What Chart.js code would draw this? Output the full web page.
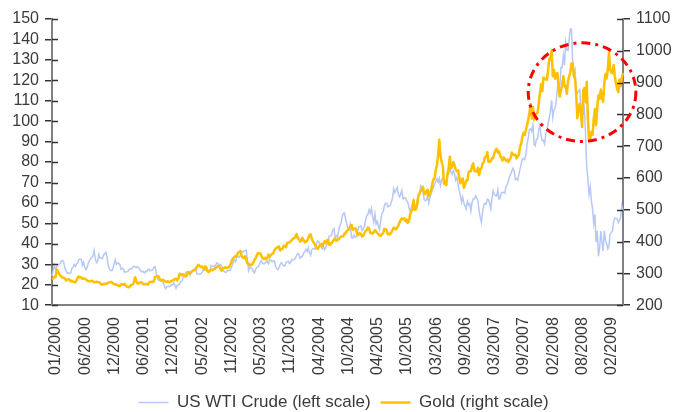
<!DOCTYPE html>
<html><head><meta charset="utf-8">
<script src="https://cdn.jsdelivr.net/npm/chart.js@4.4.1/dist/chart.umd.min.js"></script>
<style>html,body{margin:0;padding:0;background:#fff}#wrap{width:675px;height:412px;position:relative}</style>
</head><body><div id="wrap"><canvas id="c"></canvas></div>
<script>
// weekly observations (Fridays) starting 2000-01-07
const startWeek = '2000-01-07';
const tickLabels = ['01/2000','06/2000','12/2000','06/2001','12/2001','05/2002','11/2002','05/2003','11/2003','04/2004',
  '10/2004','04/2005','10/2005','03/2006','09/2006','03/2007','09/2007','02/2008','08/2008','02/2009'];
const tickEvery = 25;
const seriesNames = ['US WTI Crude (left scale)', 'Gold (right scale)'];

// US WTI crude, USD/bbl (left scale)
const oil = [
  24.2,26.9,29.6,27.6,28.9,29.5,30.0,30.4,31.5,31.9,31.0,28.0,26.9,25.6,25.8,25.6,25.7,28.0,28.6,29.9,29.0,30.3,30.6,32.4,32.5,32.5,29.5,31.0,28.5,27.4,28.5,30.5,31.8,32.8,33.4,34.0,36.7,32.7,30.8,31.5,34.8,33.0,33.0,32.7,34.4,35.3,35.8,33.9,29.5,27.9,27.0,26.8,
  27.9,30.0,32.2,30.0,30.6,30.5,29.8,27.6,27.9,27.8,26.0,26.3,26.3,26.5,27.7,27.6,27.9,28.6,29.0,28.8,28.4,28.8,28.4,27.5,26.6,26.3,26.6,25.8,26.6,26.3,27.3,27.7,26.8,27.0,27.2,28.5,28.8,25.9,23.4,22.4,21.9,21.8,21.5,21.1,19.5,18.0,19.0,19.2,19.0,19.3,20.0,19.8,
  21.0,19.7,18.2,19.8,19.9,20.4,21.5,21.7,23.3,24.2,25.5,26.3,26.3,26.6,24.6,26.4,26.8,27.0,28.1,28.1,25.2,25.3,25.3,25.3,25.8,26.9,26.9,27.6,26.8,26.9,27.0,26.9,29.4,29.0,28.9,29.1,29.8,30.7,30.3,29.5,30.0,29.1,27.2,26.6,26.0,26.2,26.9,26.9,26.9,28.0,29.4,31.2,
  32.0,31.2,33.7,33.6,33.5,34.3,35.9,36.0,36.6,36.6,36.8,31.9,26.9,28.6,28.2,27.9,26.3,25.8,27.5,28.5,28.6,29.6,31.3,31.7,30.4,30.2,30.6,31.2,31.5,30.3,32.6,32.0,31.3,31.7,31.6,29.1,27.9,27.3,28.3,29.8,30.8,30.0,29.3,29.1,30.9,31.3,31.4,30.4,31.0,32.4,32.2,32.3,
  33.0,34.3,35.3,34.8,33.0,33.7,33.9,35.3,36.2,37.3,36.2,38.1,35.7,34.4,37.1,37.7,37.7,37.4,39.9,41.4,41.0,39.9,38.5,37.6,38.6,37.1,38.4,39.5,41.6,43.8,43.8,44.4,46.6,47.3,43.2,43.9,43.0,46.6,48.9,50.1,53.3,54.9,55.2,51.8,49.6,47.3,46.8,49.4,43.0,42.8,44.3,43.2,43.5,
  45.4,48.4,48.5,48.8,46.5,47.5,48.4,51.5,53.8,54.4,56.7,55.0,57.3,53.3,50.5,54.6,49.7,51.0,48.7,47.0,51.9,55.0,55.6,58.5,59.8,59.8,58.1,58.5,58.7,60.6,62.3,66.9,65.0,66.2,67.6,64.1,63.0,64.2,66.2,62.0,62.6,62.6,61.1,60.6,57.8,56.1,57.8,59.3,61.4,58.1,58.4,61.0,
  64.2,63.9,68.4,67.8,65.4,61.8,61.1,61.4,63.7,60.0,62.8,64.3,66.6,67.4,69.3,70.4,71.9,70.2,72.0,68.5,71.4,72.3,71.6,69.9,70.9,73.9,74.1,77.0,75.0,74.0,75.9,74.4,71.1,72.5,69.2,66.3,63.8,60.5,62.9,59.8,58.6,57.0,60.8,59.1,59.6,56.0,60.3,62.0,62.0,63.4,62.4,61.1,
  56.3,52.9,50.5,55.4,59.0,59.9,59.4,61.8,61.6,60.0,57.1,62.3,65.9,64.3,63.6,63.4,66.5,61.9,62.4,64.9,65.2,65.1,64.8,68.0,68.9,70.7,72.8,73.9,75.6,77.0,75.5,71.5,71.9,71.1,74.0,76.7,79.1,81.6,81.7,81.2,83.7,88.6,91.9,95.9,96.3,95.1,98.2,88.7,87.9,91.3,91.4,96.0,
  97.9,92.7,90.6,90.7,88.9,93.6,95.5,98.8,101.8,105.2,110.2,101.8,105.6,106.2,110.1,116.7,118.5,116.3,126.3,126.3,132.2,127.4,138.5,134.9,134.6,140.2,145.1,145.1,128.9,123.3,125.1,115.2,113.8,114.6,115.5,106.2,101.2,104.6,106.9,93.9,77.7,71.9,64.2,67.8,61.0,57.0,49.9,54.4,40.8,46.3,33.9,37.7,
  46.3,40.8,36.5,46.5,41.7,40.2,37.5,38.9,44.8,45.5,46.3,51.1,52.4,52.5,52.2,50.3,51.6,53.2,58.6,56.3
];

// Gold, USD/oz (right scale)
const gold = [
  282,284,289,288,312,307,298,294,290,287,286,284,278,280,282,280,275,277,274,272,272,278,287,290,287,288,283,284,283,281,277,276,275,275,277,275,272,272,274,272,272,271,266,264,267,266,268,268,270,272,272,273,
  268,267,265,264,264,260,260,266,266,264,267,262,258,257,256,261,264,265,272,288,275,268,268,271,272,271,266,266,267,266,265,271,274,273,273,275,289,290,292,291,283,278,278,280,276,274,274,275,273,273,276,278,
  278,283,283,278,283,299,297,294,297,293,290,292,301,302,301,303,308,310,310,314,321,327,324,320,322,318,313,322,318,306,304,310,311,310,313,314,318,320,323,322,314,308,316,317,319,318,318,319,324,333,343,348,
  352,354,356,365,367,371,355,350,348,354,344,331,330,325,327,328,333,342,348,357,364,362,363,355,347,346,349,344,348,359,352,357,361,362,372,378,380,382,385,372,376,377,387,386,382,396,397,397,401,405,410,411,
  415,424,411,408,400,402,412,405,397,400,402,410,420,423,410,400,396,388,380,377,383,390,392,384,395,401,395,404,405,390,391,395,401,406,410,403,404,407,412,415,417,417,425,425,434,436,442,448,452,437,440,442,438,
  420,422,427,424,416,418,427,434,436,444,441,427,428,425,430,436,432,427,423,419,418,424,426,440,439,435,423,424,423,429,436,444,441,439,444,450,460,468,473,470,473,464,470,459,462,485,494,500,530,500,500,513,
  541,550,560,561,572,552,549,559,563,543,555,560,582,595,598,626,640,673,720,672,650,639,582,583,578,613,630,667,630,635,650,641,627,621,624,603,583,593,599,569,580,592,592,618,622,621,638,646,622,623,620,632,
  609,627,631,646,650,665,666,681,651,650,653,662,662,677,687,692,680,684,670,664,655,665,660,654,658,650,657,663,680,674,672,673,662,668,673,698,707,731,742,735,752,765,784,806,833,787,823,783,800,802,806,834,
  865,895,873,916,913,910,909,940,975,972,1001,920,940,912,928,930,877,856,878,890,920,888,890,865,905,920,933,960,960,920,912,862,788,823,833,803,760,875,883,838,903,787,720,723,745,736,786,817,766,822,860,849,
  878,855,840,898,927,913,942,995,942,932,930,955,920,898,880,870,910,888,915,930
];

// highlighted region (dash-dot ellipse), in data units: week index and gold value
const highlight = { centerWeek: 453, centerGold: 870, radiusWeeks: 46, radiusGold: 155 };

const categories = [];
(function(){
  const d0 = new Date(startWeek + 'T00:00:00Z');
  for (let i = 0; i < oil.length; i++) {
    const d = new Date(d0.getTime() + i * 7 * 86400000);
    categories.push(String(d.getUTCMonth() + 1).padStart(2, '0') + '/' + d.getUTCFullYear());
  }
})();

const FONT = "'Liberation Sans', Arial, sans-serif";
const AXIS = '#808080';
const TEXT = '#3a3a3a';

const innerTicks = {
  id: 'innerTicks',
  afterDraw(chart) {
    const ctx = chart.ctx;
    ctx.save();
    ctx.strokeStyle = '#333';
    ctx.lineWidth = 1.5;
    [['yL', 1], ['yR', -1]].forEach(([id, dir]) => {
      const s = chart.scales[id];
      const x0 = dir === 1 ? chart.chartArea.left : chart.chartArea.right;
      s.ticks.forEach(t => {
        const y = Math.round(s.getPixelForValue(t.value)) + 0.5;
        ctx.beginPath();
        ctx.moveTo(x0, y);
        ctx.lineTo(x0 + dir * 6, y);
        ctx.stroke();
      });
    });
    ctx.restore();
  }
};

const ellipsePlugin = {
  id: 'ellipse',
  afterDatasetsDraw(chart) {
    const x = chart.scales.x, y = chart.scales.yR;
    const cx = x.getPixelForValue(highlight.centerWeek);
    const cy = y.getPixelForValue(highlight.centerGold);
    const rx = Math.abs(x.getPixelForValue(highlight.centerWeek + highlight.radiusWeeks) - cx);
    const ry = Math.abs(y.getPixelForValue(highlight.centerGold + highlight.radiusGold) - cy);
    const ctx = chart.ctx;
    ctx.save();
    ctx.strokeStyle = '#ff0000';
    ctx.lineWidth = 3;
    ctx.setLineDash([9, 5, 3, 5]);
    ctx.beginPath();
    ctx.ellipse(cx, cy, rx, ry, 0, 0, Math.PI * 2);
    ctx.stroke();
    ctx.restore();
  }
};

new Chart(document.getElementById('c'), {
  type: 'line',
  data: {
    labels: categories,
    datasets: [
      { label: seriesNames[0], data: oil, yAxisID: 'yL', borderColor: 'rgb(183,200,246)', borderWidth: 1.5,
        pointRadius: 0, tension: 0, order: 2 },
      { label: seriesNames[1], data: gold, yAxisID: 'yR', borderColor: '#ffc000', borderWidth: 2.5,
        pointRadius: 0, tension: 0, order: 1, borderJoinStyle: 'round' }
    ]
  },
  options: {
    responsive: true, maintainAspectRatio: false, animation: false,
    layout: { padding: { top: 19, left: 12, right: 0, bottom: -9 } },
    plugins: {
      tooltip: { enabled: false },
      legend: {
        position: 'bottom',
        labels: {
          usePointStyle: true, pointStyle: 'line', pointStyleWidth: 30, padding: 10,
          color: TEXT, font: { family: FONT, size: 17 },
          sort: (a, b) => a.datasetIndex - b.datasetIndex
        }
      }
    },
    scales: {
      x: {
        type: 'category', offset: false,
        grid: { display: false, drawTicks: false },
        border: { display: true, color: AXIS, width: 2 },
        afterFit: s => { s.height = s.height - 3; },
        ticks: {
          autoSkip: false, minRotation: 90, maxRotation: 90, padding: 12, labelOffset: 4,
          color: TEXT, font: { family: FONT, size: 16 },
          callback: (v, i) => (i % tickEvery === 0 && tickLabels[i / tickEvery]) ? tickLabels[i / tickEvery] : null
        }
      },
      yL: {
        position: 'left', min: 10, max: 150,
        afterFit: s => { s.width = 40; },
        grid: { drawOnChartArea: false, drawTicks: true, tickLength: 7, color: '#333', lineWidth: 1.5 },
        border: { display: true, color: AXIS, width: 2 },
        ticks: { stepSize: 10, autoSkip: false, padding: 6, color: TEXT, font: { family: FONT, size: 16 },
          callback: v => String(v) }
      },
      yR: {
        position: 'right', min: 200, max: 1100,
        afterFit: s => { s.width = 52; },
        grid: { drawOnChartArea: false, drawTicks: true, tickLength: 7, color: '#333', lineWidth: 1.5 },
        border: { display: true, color: AXIS, width: 2 },
        ticks: { stepSize: 100, autoSkip: false, padding: 6, color: TEXT, font: { family: FONT, size: 16 },
          callback: v => String(v) }
      }
    }
  },
  plugins: [innerTicks, ellipsePlugin]
});
</script>
</body></html>
